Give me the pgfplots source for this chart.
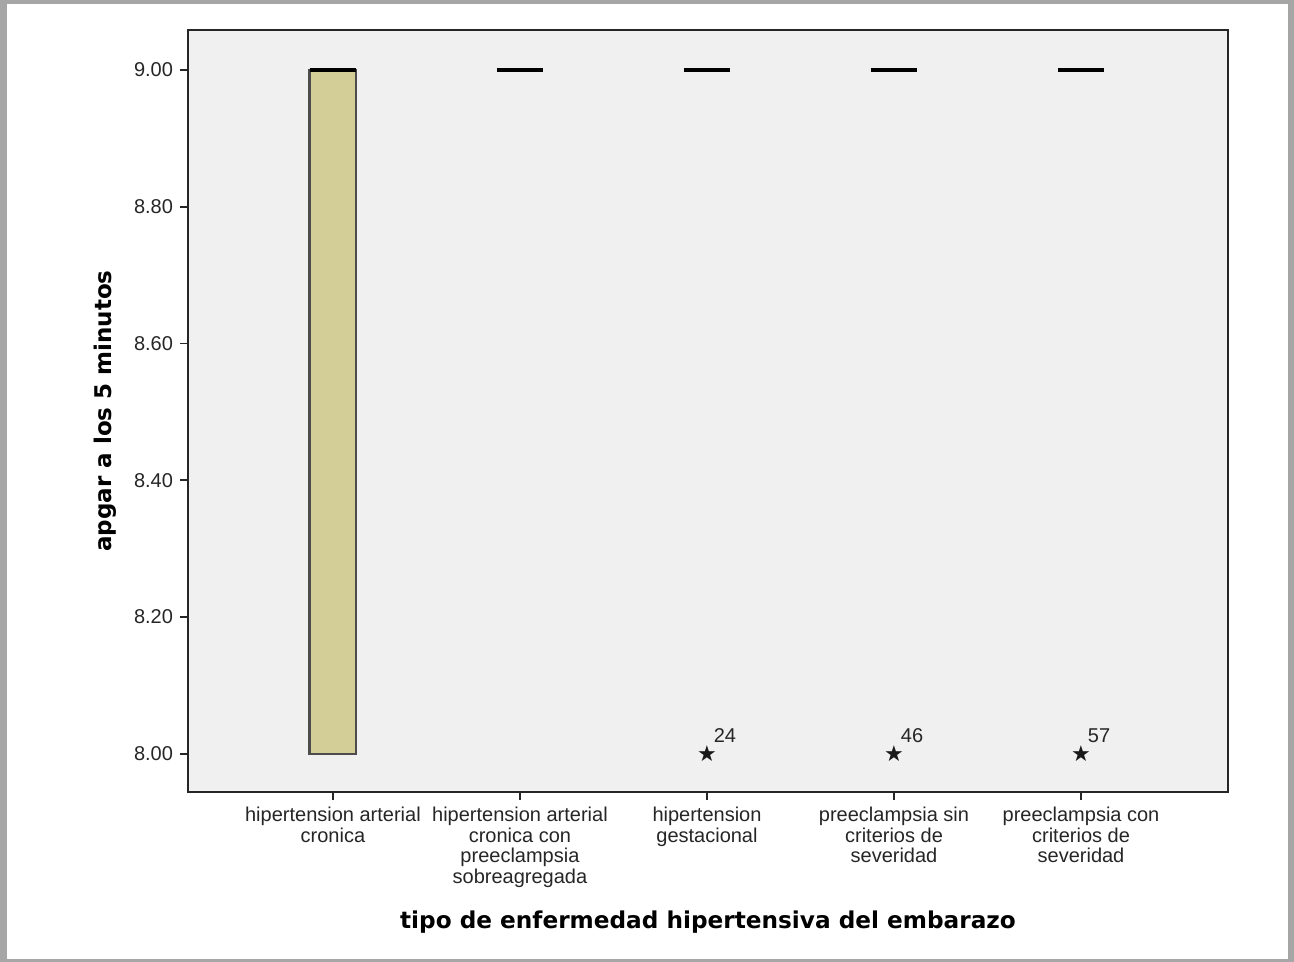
\documentclass[border=0pt]{standalone}
\usepackage{pgfplots}
\pgfplotsset{compat=1.18}
\usepackage{fontspec}
\setmainfont{Liberation Sans}
\newfontfamily\dvs{DejaVu Sans}
\definecolor{framegray}{RGB}{166,166,166}
\definecolor{plotbg}{RGB}{240,240,240}
\definecolor{boxfill}{RGB}{211,206,151}
\begin{document}
\begin{tikzpicture}
\fill[framegray] (0,0) rectangle (647pt,481pt);
\fill[white] (3.5pt,1.5pt) rectangle (644pt,479pt);
\begin{axis}[
  at={(94pt,85pt)}, anchor=south west,
  scale only axis, width=520pt, height=381pt,
  xmin=-0.775, xmax=4.786, ymin=7.944, ymax=9.0585,
  axis background/.style={fill=plotbg},
  axis line style={line width=0.8pt, black!85},
  tick align=outside, major tick length=4pt,
  tick style={line width=0.8pt, black!85},
  xtick pos=left, ytick pos=left,
  xtick={0,1,2,3,4},
  xticklabels={{hipertension arterial\\cronica},
               {hipertension arterial\\cronica con\\preeclampsia\\sobreagregada},
               {hipertension\\gestacional},
               {preeclampsia sin\\criterios de\\severidad},
               {preeclampsia con\\criterios de\\severidad}},
  xticklabel style={align=center, font=\fontsize{10}{10.3}\selectfont, text=black!85},
  ytick={8,8.2,8.4,8.6,8.8,9},
  yticklabels={8.00,8.20,8.40,8.60,8.80,9.00},
  yticklabel style={font=\fontsize{10}{12}\selectfont, text=black!85},
  /pgf/number format/assume math mode=true,
  xlabel={tipo de enfermedad hipertensiva del embarazo},
  ylabel={apgar a los 5 minutos},
  every axis x label/.style={at={(axis description cs:0.5,-0.1706)}, anchor=center, font=\dvs\bfseries\fontsize{11.6}{13}\selectfont},
  every axis y label/.style={at={(axis description cs:-0.0798,0.5)}, rotate=90, anchor=center, font=\dvs\bfseries\fontsize{11.5}{13}\selectfont},
  clip=false,
]
% box of the first group (quartiles 8 and 9)
\addplot[draw=black!70, line width=1.1pt, fill=boxfill]
  coordinates {(-0.125,8) (0.125,8) (0.125,9) (-0.125,9)} -- cycle;
% medians (all at 9)
\addplot[black, line width=2pt] coordinates {(-0.125,9) (0.125,9)};
\addplot[black, line width=2pt] coordinates {(0.875,9) (1.125,9)};
\addplot[black, line width=2pt] coordinates {(1.875,9) (2.125,9)};
\addplot[black, line width=2pt] coordinates {(2.875,9) (3.125,9)};
\addplot[black, line width=2pt] coordinates {(3.875,9) (4.125,9)};
% extreme outliers
\addplot[only marks, mark=text, text mark={\color{black!90}\dvs\fontsize{11}{12}\selectfont ★},
  nodes near coords, point meta=explicit symbolic,
  nodes near coords style={anchor=center, xshift=9pt, yshift=9pt, font=\fontsize{10}{12}\selectfont, text=black!85}]
  coordinates {(2,8)[24] (3,8)[46] (4,8)[57]};
\end{axis}
\end{tikzpicture}
\end{document}
